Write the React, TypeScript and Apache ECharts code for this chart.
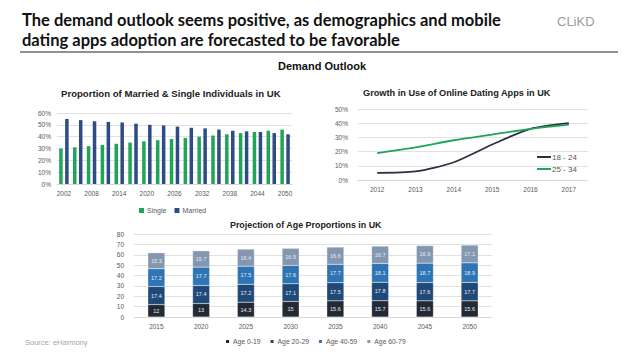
import React, { useEffect, useRef } from "react";
import * as echarts from "echarts";

const maritalYears = ["2002","2005","2008","2011","2014","2017","2020","2023","2026","2029","2032","2035","2038","2041","2044","2047","2050"];
const singleShare = [30,31,32,33,34,35,36,37,38,39,40,41,42,43,44,45,46];
const marriedShare = [55,54,53,52.5,52,51,50,49.5,48.5,47.5,47,46,45,44.5,44,43,42];

const appYears = ["2012","2013","2014","2015","2016","2017"];
const age18to24 = [5,6,12.5,25,36,40];
const age25to34 = [19,23,28,32,36,39];

const projYears = ["2015","2020","2025","2030","2035","2040","2045","2050"];
const age0to19 = [12,13,14.3,15,15.6,15.7,15.6,15.6];
const age20to29 = [17.4,17.4,17.2,17.1,17.5,17.8,17.6,17.7];
const age40to59 = [17.2,17.7,17.5,17.6,17.7,18.1,18.7,18.9];
const age60to79 = [15.3,15.7,16.4,16.5,16.6,16.7,16.9,17.1];

const FONT = "Liberation Sans";
const axisText = { color: "#595959", fontSize: 6.5, fontFamily: FONT };
const gridLine = { lineStyle: { color: "#d9d9d9", width: 0.8 } };

export default function App() {
  const ref = useRef<HTMLDivElement>(null);
  useEffect(() => {
    const chart = echarts.init(ref.current!, null, { renderer: "svg" });
    const stackLabel = { show: true, color: "#e8ecf2", fontSize: 5.5, fontFamily: FONT };
    const titleStyle = (size: number) => ({ fontSize: size, fontWeight: "bold", color: "#222", fontFamily: FONT });
    chart.setOption({
      animation: false,
      backgroundColor: "#ffffff",
      textStyle: { fontFamily: FONT },
      graphic: [
        { type: "text", left: 22, top: 10, style: { text: "The demand outlook seems positive, as demographics and mobile\ndating apps adoption are forecasted to be favorable", fontFamily: "Lato", fontWeight: "bold", fontSize: 16.5, lineHeight: 20, fill: "#111" } },
        { type: "line", shape: { x1: 20, y1: 52, x2: 618, y2: 52 }, style: { stroke: "#222", lineWidth: 1 } },
        { type: "text", left: 557, top: 15, style: { text: "CLiKD", fontFamily: FONT, fontSize: 13, letterSpacing: 5, fill: "#9a9a9a" } },
        { type: "text", left: 278, top: 60, style: { text: "Demand Outlook", fontFamily: FONT, fontWeight: "bold", fontSize: 11, letterSpacing: -0.5, fill: "#111" } },
        { type: "text", left: 25, top: 338, style: { text: "Source: eHarmony", fontFamily: FONT, fontSize: 7.5, fill: "#a6a6a6" } },
      ],
      title: [
        { text: "Proportion of Married & Single Individuals in UK", left: 61, top: 88, padding: 0, textStyle: titleStyle(9.6) },
        { text: "Growth in Use of Online Dating Apps in UK", left: 363, top: 88, padding: 0, textStyle: titleStyle(9.2) },
        { text: "Projection of Age Proportions in UK", left: 230, top: 220, padding: 0, textStyle: titleStyle(8.9) },
      ],
      legend: [
        { data: ["Single", "Married"], left: 134, top: 202, itemWidth: 5, itemHeight: 5, itemGap: 8, icon: "rect", textStyle: { fontSize: 7, color: "#595959", padding: [0, 0, 0, -2] } },
        { data: ["18 - 24", "25 - 34"], orient: "vertical", left: 532, top: 148, itemWidth: 14, itemHeight: 2, itemGap: 4, icon: "rect", textStyle: { fontSize: 8, color: "#595959", padding: [0, 0, 0, -4] } },
        { data: ["Age 0-19", "Age 20-29", "Age 40-59", "Age 60-79"], left: 219, top: 333, itemWidth: 5, itemHeight: 5, itemGap: 8, icon: "rect", textStyle: { fontSize: 6.8, color: "#595959", padding: [0, 0, 0, -2] } },
      ],
      grid: [
        { left: 57, top: 113, width: 235, height: 71 },
        { left: 358, top: 109, width: 230, height: 71 },
        { left: 134, top: 234, width: 358, height: 83 },
      ],
      xAxis: [
        { type: "category", gridIndex: 0, data: maritalYears, axisTick: { show: false }, axisLine: { lineStyle: { color: "#d9d9d9" } }, axisLabel: { ...axisText, interval: 1, margin: 6 } },
        { type: "category", gridIndex: 1, data: appYears, axisTick: { show: false }, axisLine: { lineStyle: { color: "#d9d9d9" } }, axisLabel: { ...axisText, margin: 6 } },
        { type: "category", gridIndex: 2, data: projYears, axisTick: { show: false }, axisLine: { lineStyle: { color: "#d9d9d9" } }, axisLabel: { ...axisText, margin: 6 } },
      ],
      yAxis: [
        { type: "value", gridIndex: 0, min: 0, max: 60, interval: 10, splitLine: gridLine, axisLabel: { ...axisText, formatter: "{value}%", margin: 6 } },
        { type: "value", gridIndex: 1, min: 0, max: 50, interval: 10, splitLine: gridLine, axisLabel: { ...axisText, formatter: "{value}%", margin: 10 } },
        { type: "value", gridIndex: 2, min: 0, max: 80, interval: 10, splitLine: gridLine, axisLabel: { ...axisText, margin: 10 } },
      ],
      series: [
        { name: "Single", type: "bar", xAxisIndex: 0, yAxisIndex: 0, data: singleShare, barWidth: 3.5, barGap: "70%", itemStyle: { color: "#1fa45a" } },
        { name: "Married", type: "bar", xAxisIndex: 0, yAxisIndex: 0, data: marriedShare, barWidth: 3.5, barGap: "70%", itemStyle: { color: "#2f4b85" } },
        { name: "18 - 24", type: "line", xAxisIndex: 1, yAxisIndex: 1, data: age18to24, smooth: 0.25, showSymbol: false, lineStyle: { color: "#2b3040", width: 1.8 }, itemStyle: { color: "#2b3040" } },
        { name: "25 - 34", type: "line", xAxisIndex: 1, yAxisIndex: 1, data: age25to34, smooth: 0.25, showSymbol: false, lineStyle: { color: "#1fa45a", width: 1.8 }, itemStyle: { color: "#1fa45a" } },
        { name: "Age 0-19", type: "bar", stack: "age", xAxisIndex: 2, yAxisIndex: 2, data: age0to19, barWidth: 17, label: stackLabel, itemStyle: { color: "#232a36", borderColor: "#fff", borderWidth: 0.3 } },
        { name: "Age 20-29", type: "bar", stack: "age", xAxisIndex: 2, yAxisIndex: 2, data: age20to29, barWidth: 17, label: stackLabel, itemStyle: { color: "#1f4a78", borderColor: "#fff", borderWidth: 0.3 } },
        { name: "Age 40-59", type: "bar", stack: "age", xAxisIndex: 2, yAxisIndex: 2, data: age40to59, barWidth: 17, label: stackLabel, itemStyle: { color: "#2f74b5", borderColor: "#fff", borderWidth: 0.3 } },
        { name: "Age 60-79", type: "bar", stack: "age", xAxisIndex: 2, yAxisIndex: 2, data: age60to79, barWidth: 17, label: stackLabel, itemStyle: { color: "#8497b0", borderColor: "#fff", borderWidth: 0.3 } },
      ],
    });
    return () => chart.dispose();
  }, []);
  return <div ref={ref} style={{ position: "fixed", left: 0, top: 0, width: 638, height: 359 }} />;
}
